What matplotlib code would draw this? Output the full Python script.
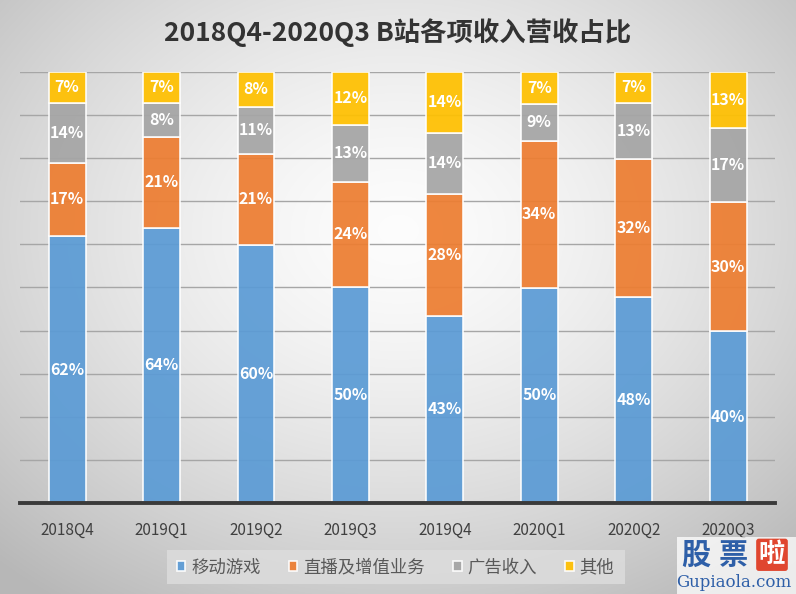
import matplotlib
matplotlib.use("Agg")
import matplotlib.pyplot as plt
import numpy as np

categories = ["2018Q4", "2019Q1", "2019Q2", "2019Q3", "2019Q4", "2020Q1", "2020Q2", "2020Q3"]
series_names = ["移动游戏", "直播及增值业务", "广告收入", "其他"]
mobile_games = [61.9, 63.8, 59.9, 50.1, 43.4, 49.9, 47.8, 39.9]
live_vas = [17.0, 21.1, 21.1, 24.4, 28.3, 34.1, 32.0, 29.9]
advertising = [13.9, 7.9, 10.9, 13.2, 14.1, 8.6, 13.0, 17.2]
others = [7.2, 7.2, 8.1, 12.3, 14.2, 7.4, 7.2, 13.0]
colors = ["#5B9BD5", "#ED7D31", "#A5A5A5", "#FFC000"]

plt.rcParams['font.family'] = ['Noto Sans CJK SC', 'DejaVu Sans']

fig = plt.figure(figsize=(7.96, 5.94), dpi=100)

# radial gradient background
bg = fig.add_axes([0, 0, 1, 1], zorder=-10)
yy, xx = np.mgrid[0:594, 0:796]
r = np.sqrt(((xx - 398) / 540.0) ** 2 + ((yy - 230) / 420.0) ** 2)
val = np.clip(0.99 - 0.24 * r ** 1.5, 0.72, 1)
bg.imshow(np.dstack([val, val, val]), aspect='auto', extent=[0, 1, 0, 1])
bg.axis('off')

# legend background box (pixel coords)
fig.patches.append(plt.Rectangle((167, 594 - 584), 625 - 167, 584 - 550, transform=None,
                                 facecolor='#dcdcdc', edgecolor='none', alpha=0.85, zorder=1))

ax = fig.add_axes([0.025, 0.1532, 0.949, 0.7258])
ax.patch.set_alpha(0)
x = np.arange(len(categories))
data = [mobile_games, live_vas, advertising, others]
bottom = np.zeros(len(categories))
for name, vals, c in zip(series_names, data, colors):
    vals = np.array(vals)
    ax.bar(x, vals, 0.39, bottom=bottom, color=c, edgecolor='white', linewidth=1.2,
           label=name, zorder=3, alpha=0.93)
    for xi, b, v in zip(x, bottom, vals):
        ax.text(xi, b + v / 2, f"{v:.0f}%", ha='center', va='center', color='white',
                fontsize=11.5, fontweight='bold', zorder=4)
    bottom += vals

ax.set_xlim(-0.5, len(categories) - 0.5)
ax.set_ylim(0, 100)
ax.set_yticks(np.arange(0, 101, 10))
ax.yaxis.grid(True, color='#a6a6a6', linewidth=1.0, zorder=0)
ax.tick_params(axis='y', left=False, labelleft=False)
ax.tick_params(axis='x', bottom=False, labelsize=11, labelcolor='#404040', pad=10)
ax.set_xticks(x)
ax.set_xticklabels(categories)
for s in ['top', 'left', 'right']:
    ax.spines[s].set_visible(False)
ax.spines['bottom'].set_color('#3a3a3a')
ax.spines['bottom'].set_linewidth(2.8)
ax.spines['bottom'].set_zorder(5)

fig.text(0.5, 0.945, "2018Q4-2020Q3 B站各项收入营收占比", ha='center', va='center',
         fontsize=19, fontweight='bold', color='#333333')

leg = fig.legend(loc='center', bbox_to_anchor=(0.497, 0.0445), ncol=4, frameon=False,
                 fontsize=12.5, handlelength=0.5, handleheight=0.5, handletextpad=0.35,
                 columnspacing=1.6, borderpad=0.35, borderaxespad=0)
for t in leg.get_texts():
    t.set_color('#595959')

# watermark
fig.patches.append(plt.Rectangle((677, 0), 119, 594 - 537, transform=None,
                                 facecolor='white', edgecolor='none', alpha=0.75, zorder=5))
fig.text(696 / 796, 0.066, "股", ha='center', va='center', fontsize=21, fontweight='bold',
         color='#2e5fa8', zorder=6)
fig.text(733 / 796, 0.066, "票", ha='center', va='center', fontsize=21, fontweight='bold',
         color='#2e5fa8', zorder=6)
fig.text(772 / 796, 0.066, "啦", ha='center', va='center', fontsize=19, fontweight='bold',
         color='white', zorder=6,
         bbox=dict(boxstyle='round,pad=0.1', facecolor='#e0462f', edgecolor='none'))
fig.text(734 / 796, 0.019, "Gupiaola.com", ha='center', va='center', fontsize=12, color='#2e5fa8',
         family=['DejaVu Serif'], zorder=6)

fig.savefig("out.png", dpi=100)
